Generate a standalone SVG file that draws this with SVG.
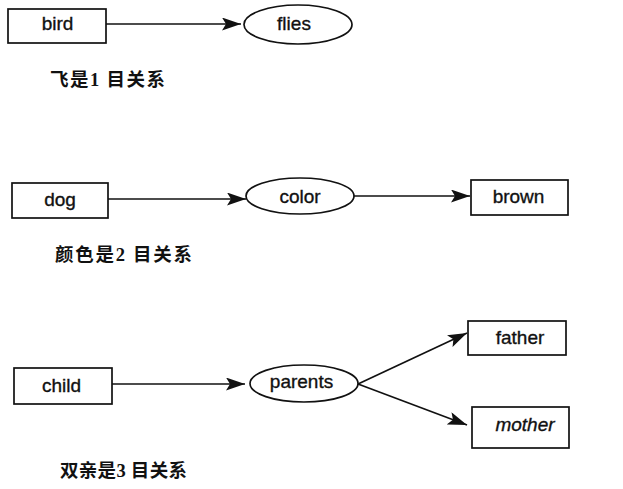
<svg xmlns="http://www.w3.org/2000/svg" width="623" height="489" viewBox="0 0 623 489">
<style>
.box{fill:#fff;stroke:#111;stroke-width:1.7}
.lbl{font-family:"Liberation Sans",Arial,sans-serif;font-size:19px;fill:#111;stroke:#111;stroke-width:0.35;text-anchor:middle}
.cap{font-family:"Liberation Serif","Noto Sans CJK SC",serif;font-size:18.5px;font-weight:bold;fill:#111}
.edge{stroke:#111;stroke-width:1.7;fill:none;marker-end:url(#ah)}
</style>
<defs>
<marker id="ah" markerUnits="userSpaceOnUse" markerWidth="22" markerHeight="14" refX="19" refY="6.5" orient="auto">
<path d="M0,0 L19,6.5 L0,13 L4,6.5 z" fill="#111"/>
</marker>
</defs>
<rect width="623" height="489" fill="#fff"/>
<g id="connectors">
<line class="edge" x1="106" y1="24" x2="241" y2="24"/>
<line class="edge" x1="108" y1="199" x2="246" y2="199"/>
<line class="edge" x1="354" y1="196" x2="470" y2="196"/>
<line class="edge" x1="112" y1="384" x2="245" y2="384"/>
<line class="edge" x1="358" y1="384" x2="467" y2="333"/>
<line class="edge" x1="358" y1="384" x2="467" y2="425"/>
</g>
<g id="bird"><rect class="box" x="8" y="9" width="98" height="34"/><text class="lbl" x="57.5" y="30">bird</text></g>
<g id="flies"><ellipse class="box" cx="298" cy="24.5" rx="54" ry="19.5"/><text class="lbl" x="294" y="30">flies</text></g>
<g id="cap1"><text class="cap" x="50" y="86" textLength="115" lengthAdjust="spacing">飞是1 目关系</text></g>
<g id="dog"><rect class="box" x="12" y="183" width="96" height="35"/><text class="lbl" x="60" y="206">dog</text></g>
<g id="color"><ellipse class="box" cx="300" cy="196" rx="54" ry="18"/><text class="lbl" x="300" y="203">color</text></g>
<g id="brown"><rect class="box" x="471" y="180" width="97" height="35"/><text class="lbl" x="518.5" y="203">brown</text></g>
<g id="cap2"><text class="cap" x="55" y="261" textLength="137" lengthAdjust="spacing">颜色是2 目关系</text></g>
<g id="child"><rect class="box" x="14" y="368" width="98" height="36"/><text class="lbl" x="61.5" y="392">child</text></g>
<g id="parents"><ellipse class="box" cx="304" cy="383.5" rx="54" ry="18.5"/><text class="lbl" x="301.5" y="388">parents</text></g>
<g id="father"><rect class="box" x="468" y="321" width="98" height="34"/><text class="lbl" x="520" y="344">father</text></g>
<g id="mother"><rect class="box" x="472" y="407" width="97" height="41"/><text class="lbl" x="525" y="431" font-style="italic">mother</text></g>
<g id="cap3"><text class="cap" x="60" y="477" textLength="127" lengthAdjust="spacing">双亲是3 目关系</text></g>
</svg>
